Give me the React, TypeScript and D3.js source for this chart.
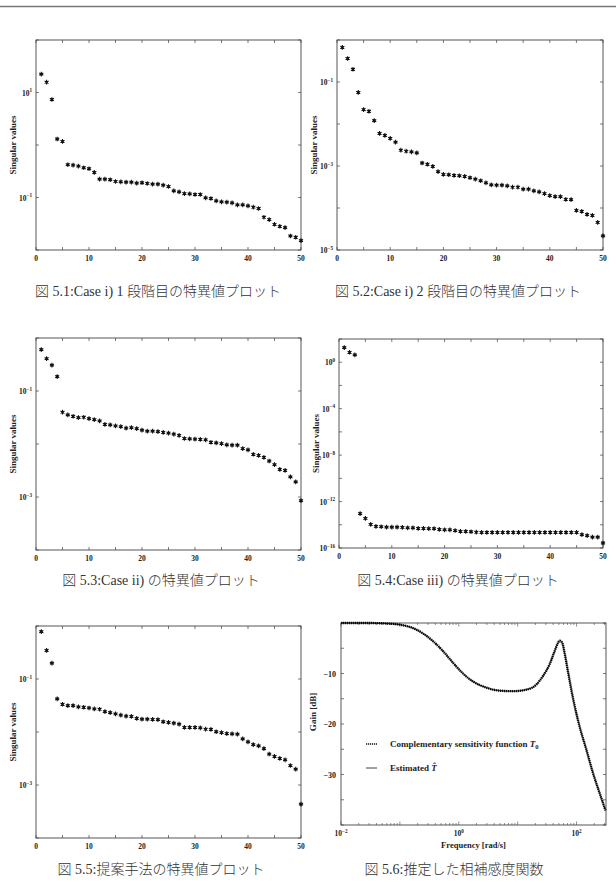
import React from 'react';
import * as d3 from 'd3';

// ---------- data ----------
const indices = d3.range(1, 51);
const xTicks = [0, 10, 20, 30, 40, 50];

const sv51 = [22.4, 15.7, 7.35, 1.30, 1.17, 0.421, 0.415, 0.397, 0.369, 0.353, 0.301, 0.224, 0.224, 0.218, 0.202, 0.199, 0.196, 0.196, 0.188, 0.191, 0.185, 0.180, 0.180, 0.172, 0.162, 0.134, 0.128, 0.119, 0.117, 0.114, 0.114, 0.0986, 0.0957, 0.0863, 0.0826, 0.0815, 0.0791, 0.0724, 0.0724, 0.0693, 0.0653, 0.0617, 0.0421, 0.0380, 0.0309, 0.0283, 0.0267, 0.0185, 0.0175, 0.0151];

const sv52 = [0.667, 0.363, 0.201, 0.0565, 0.0221, 0.0201, 0.0120, 0.00597, 0.00535, 0.00453, 0.00370, 0.00238, 0.00225, 0.00217, 0.00205, 0.00118, 0.00110, 0.000982, 0.000731, 0.000631, 0.000619, 0.000597, 0.000586, 0.000565, 0.000525, 0.000488, 0.000445, 0.000398, 0.000356, 0.000350, 0.000350, 0.000337, 0.000313, 0.000313, 0.000281, 0.000281, 0.000256, 0.000242, 0.000221, 0.000198, 0.000187, 0.000187, 0.000161, 0.000158, 0.0000879, 0.0000832, 0.0000705, 0.0000667, 0.0000453, 0.0000217];

const sv53 = [0.604, 0.407, 0.308, 0.187, 0.0398, 0.0354, 0.0334, 0.0315, 0.0320, 0.0301, 0.0288, 0.0272, 0.0235, 0.0229, 0.0219, 0.0212, 0.0200, 0.0203, 0.0195, 0.0183, 0.0175, 0.0175, 0.0171, 0.0166, 0.0161, 0.0154, 0.0145, 0.0127, 0.0125, 0.0124, 0.0122, 0.0120, 0.0108, 0.0105, 0.0102, 0.00964, 0.00951, 0.00951, 0.00820, 0.00774, 0.00640, 0.00612, 0.00561, 0.00478, 0.00407, 0.00332, 0.00318, 0.00240, 0.00193, 0.000851];

const sv54 = [18.1, 7.19, 4.26, 9.3e-14, 3.5e-14, 1.07e-14, 7.2e-15, 6.8e-15, 6.3e-15, 6.3e-15, 6.3e-15, 5.9e-15, 5.5e-15, 5.5e-15, 4.9e-15, 4.9e-15, 4.6e-15, 4.6e-15, 4.0e-15, 3.7e-15, 3.7e-15, 3.2e-15, 2.7e-15, 2.7e-15, 2.5e-15, 2.3e-15, 2.2e-15, 2.2e-15, 2.2e-15, 2.2e-15, 2.2e-15, 2.2e-15, 2.2e-15, 2.2e-15, 2.2e-15, 2.2e-15, 2.2e-15, 2.2e-15, 2.2e-15, 2.2e-15, 2.2e-15, 2.2e-15, 2.2e-15, 2.2e-15, 2.2e-15, 1.4e-15, 1.15e-15, 8.7e-16, 8.7e-16, 2.7e-16];

const sv55 = [0.785, 0.347, 0.199, 0.0422, 0.0334, 0.0315, 0.0315, 0.0297, 0.0293, 0.0284, 0.0272, 0.0269, 0.0242, 0.0232, 0.0219, 0.0209, 0.0200, 0.0197, 0.0181, 0.0175, 0.0175, 0.0173, 0.0171, 0.0156, 0.0152, 0.0147, 0.0141, 0.0122, 0.0122, 0.0122, 0.0120, 0.0113, 0.0112, 0.0101, 0.00977, 0.00935, 0.00923, 0.00910, 0.00741, 0.00650, 0.00578, 0.00546, 0.00485, 0.00384, 0.00347, 0.00318, 0.00299, 0.00233, 0.00199, 0.000435];

const freqRad = [0.01, 0.0272, 0.0523, 0.1, 0.191, 0.367, 0.542, 0.80, 1.18, 1.75, 2.94, 4.95, 8.34, 14.0, 20.7, 26.9, 34.8, 42.4, 48.3, 52.2, 57.2, 62.6, 71.3, 86.7, 112, 146, 189, 245, 310];
const gainDb = [0, 0, -0.07, -0.33, -1.32, -3.62, -5.59, -7.89, -10.0, -11.6, -12.8, -13.4, -13.5, -13.2, -12.2, -10.5, -8.2, -5.59, -3.95, -3.49, -3.95, -5.92, -9.54, -14.8, -20.4, -25.0, -29.6, -33.6, -37.1];

const gainTicks = [-10, -20, -30];
const freqTickExps = [-2, 0, 2];

const captions = [
  '図 5.1:Case i) 1 段階目の特異値プロット',
  '図 5.2:Case i) 2 段階目の特異値プロット',
  '図 5.3:Case ii) の特異値プロット',
  '図 5.4:Case iii) の特異値プロット',
  '図 5.5:提案手法の特異値プロット',
  '図 5.6:推定した相補感度関数',
];

// ---------- layout ----------
const panels = [
  { l: 36, r: 301, t: 40, b: 250, values: sv51, eMin: -2, eMax: 2, step: 1, labels: [-1, 1] },
  { l: 337, r: 603, t: 40, b: 250, values: sv52, eMin: -5, eMax: 0, step: 1, labels: [-1, -3, -5] },
  { l: 36, r: 301, t: 338, b: 550, values: sv53, eMin: -4, eMax: 0, step: 1, labels: [-1, -3] },
  { l: 339, r: 603, t: 339, b: 548, values: sv54, eMin: -16, eMax: 2, step: 2, labels: [0, -4, -8, -12, -16] },
  { l: 36, r: 301, t: 626, b: 838, values: sv55, eMin: -4, eMax: 0, step: 1, labels: [-1, -3] },
];
const captionPos = [[158, 291], [458, 291], [161, 580], [458, 580], [161, 869], [454, 869]];

const FONT = '"Liberation Serif", "DejaVu Serif", serif';
const AX = '#444';

function Pow({ x, y, exp, anchor, size }: any) {
  const e = exp < 0 ? '\u2212' + Math.abs(exp) : String(exp);
  return (
    <text x={x} y={y} textAnchor={anchor} fontFamily={FONT} fontWeight="bold" fontSize={size} fill="#222">
      10<tspan dy={-3.2} fontSize={size * 0.68}>{e}</tspan>
    </text>
  );
}

function ScatterPanel({ p }: any) {
  const x = d3.scaleLinear().domain([0, 50]).range([p.l, p.r]);
  const y = d3.scaleLog().domain([Math.pow(10, p.eMin), Math.pow(10, p.eMax)]).range([p.b, p.t]);
  const yTickExps = d3.range(p.eMin, p.eMax + 0.001, p.step);
  const minorX = d3.range(0, 51, 5);
  const sym = d3.symbol().type(d3.symbolAsterisk).size(15)();
  const sq = d3.symbol().type(d3.symbolSquare).size(6)();
  const tl = 3;
  return (
    <g>
      <rect x={p.l} y={p.t} width={p.r - p.l} height={p.b - p.t} fill="none" stroke={AX} strokeWidth={0.9} />
      {minorX.map((v) => (
        <g key={'xt' + v}>
          <line x1={x(v)} x2={x(v)} y1={p.b} y2={p.b - tl} stroke={AX} strokeWidth={0.7} />
          <line x1={x(v)} x2={x(v)} y1={p.t} y2={p.t + tl} stroke={AX} strokeWidth={0.7} />
        </g>
      ))}
      {yTickExps.map((e) => (
        <g key={'yt' + e}>
          <line x1={p.l} x2={p.l + tl} y1={y(Math.pow(10, e))} y2={y(Math.pow(10, e))} stroke={AX} strokeWidth={0.7} />
          <line x1={p.r} x2={p.r - tl} y1={y(Math.pow(10, e))} y2={y(Math.pow(10, e))} stroke={AX} strokeWidth={0.7} />
        </g>
      ))}
      {xTicks.map((v) => (
        <text key={'xl' + v} x={x(v)} y={p.b + 11} textAnchor="middle" fontFamily={FONT} fontWeight="bold" fontSize={7.5} fill="#222">{v}</text>
      ))}
      {p.labels.map((e: number) => (
        <Pow key={'yl' + e} x={p.l - 4} y={y(Math.pow(10, e)) + 3} exp={e} anchor="end" size={7.5} />
      ))}
      <text transform={`translate(${p.l - 20},${(p.t + p.b) / 2}) rotate(-90)`} textAnchor="middle" fontFamily={FONT} fontWeight="bold" fontSize={9} fill="#222">Singular values</text>
      {p.values.map((v: number, i: number) => (
        <g key={'pt' + i} transform={`translate(${x(indices[i])},${y(v)})`}>
          <path d={sq as string} fill="#111" />
          <path d={sym as string} fill="#111" stroke="#111" strokeWidth={1.1} />
        </g>
      ))}
    </g>
  );
}

function BodePanel() {
  const box = { l: 341, r: 606, t: 623, b: 825 };
  const x = d3.scaleLog().domain([0.01, Math.pow(10, 2.5)]).range([box.l, box.r]);
  const y = d3.scaleLinear().domain([-40, 0]).range([box.b, box.t]);
  const line = d3.line<number>().x((_, i) => x(freqRad[i])).y((d) => y(d)).curve(d3.curveMonotoneX);
  const pathD = line(gainDb) as string;
  const minorX: number[] = [];
  for (let e = -2; e <= 2; e++) for (let k = 1; k <= 9; k++) {
    const v = k * Math.pow(10, e);
    if (v <= Math.pow(10, 2.5)) minorX.push(v);
  }
  const yT = d3.range(-40, 0.1, 5);
  return (
    <g>
      <rect x={box.l} y={box.t} width={box.r - box.l} height={box.b - box.t} fill="none" stroke={AX} strokeWidth={0.9} />
      {minorX.map((v, i) => {
        const major = Math.abs(Math.log10(v) - Math.round(Math.log10(v))) < 1e-9;
        const len = major ? 3.5 : 2;
        return (
          <g key={'bx' + i}>
            <line x1={x(v)} x2={x(v)} y1={box.b} y2={box.b - len} stroke={AX} strokeWidth={0.6} />
            <line x1={x(v)} x2={x(v)} y1={box.t} y2={box.t + len} stroke={AX} strokeWidth={0.6} />
          </g>
        );
      })}
      {yT.map((v) => (
        <g key={'by' + v}>
          <line x1={box.l} x2={box.l + 3} y1={y(v)} y2={y(v)} stroke={AX} strokeWidth={0.7} />
          <line x1={box.r} x2={box.r - 3} y1={y(v)} y2={y(v)} stroke={AX} strokeWidth={0.7} />
        </g>
      ))}
      {gainTicks.map((v) => (
        <text key={'gl' + v} x={box.l - 5} y={y(v) + 3} textAnchor="end" fontFamily={FONT} fontWeight="bold" fontSize={8} fill="#222">{'\u2212' + Math.abs(v)}</text>
      ))}
      {freqTickExps.map((e) => (
        <Pow key={'fl' + e} x={x(Math.pow(10, e))} y={box.b + 11} exp={e} anchor="middle" size={7.5} />
      ))}
      <text x={(box.l + box.r) / 2} y={box.b + 23} textAnchor="middle" fontFamily={FONT} fontWeight="bold" fontSize={8.5} fill="#222">Frequency [rad/s]</text>
      <text transform={`translate(${box.l - 25},${712}) rotate(-90)`} textAnchor="middle" fontFamily={FONT} fontWeight="bold" fontSize={9} fill="#222">Gain [dB]</text>
      <path d={pathD} fill="none" stroke="#111" strokeWidth={2.4} strokeDasharray="1.3 0.7" />
      <path d={pathD} fill="none" stroke="#000" strokeWidth={0.8} />
      <line x1={366} x2={377} y1={744} y2={744} stroke="#111" strokeWidth={1.6} strokeDasharray="1.2 0.8" />
      <text x={390} y={747} fontFamily={FONT} fontWeight="bold" fontSize={9} fill="#222">
        Complementary sensitivity function <tspan fontStyle="italic">T</tspan><tspan dy={2} fontSize={6.5}>0</tspan>
      </text>
      <line x1={366} x2={377} y1={768} y2={768} stroke="#111" strokeWidth={0.8} />
      <text x={390} y={771} fontFamily={FONT} fontWeight="bold" fontSize={9} fill="#222">
        Estimated <tspan fontStyle="italic">{'T\u0302'}</tspan>
      </text>
    </g>
  );
}

export default function App() {
  return (
    <svg width={616} height={883} style={{ position: 'absolute', left: 0, top: 0, background: '#fff' }}>
      <rect x={0} y={0} width={616} height={883} fill="#fff" />
      <line x1={0} x2={616} y1={6.5} y2={6.5} stroke="#777" strokeWidth={1.5} />
      {panels.map((p, i) => <ScatterPanel key={i} p={p} />)}
      <BodePanel />
      {captions.map((c, i) => (
        <text key={'cap' + i} x={captionPos[i][0]} y={captionPos[i][1] + 5} textAnchor="middle" fontFamily={'"Liberation Serif", "Noto Sans CJK JP", serif'} fontWeight={300} fontSize={14} fill="#333">{c}</text>
      ))}
    </svg>
  );
}
